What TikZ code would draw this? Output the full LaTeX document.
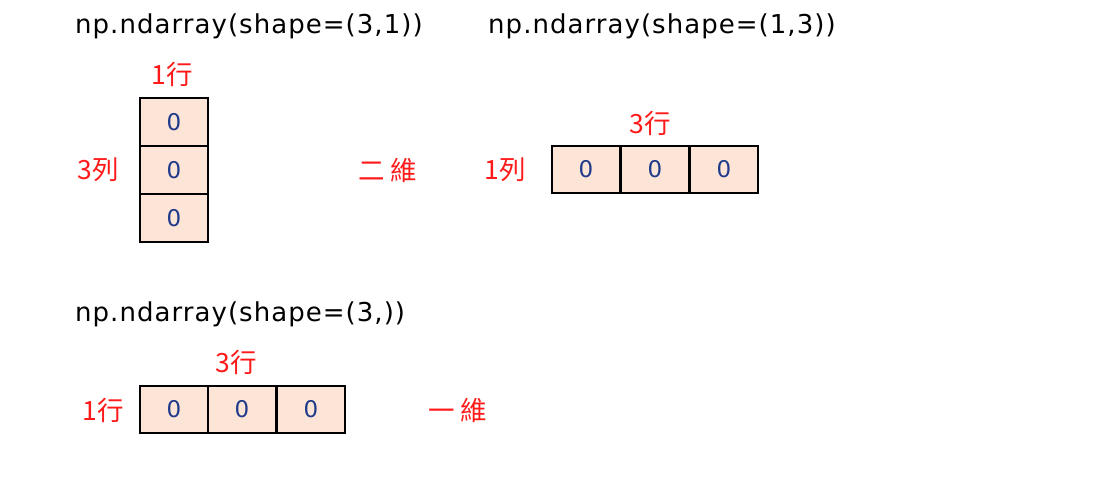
\documentclass[tikz,border=0pt]{standalone}
\usepackage{fontspec}
\setmainfont{DejaVu Sans}
\newfontfamily\titlefont[LetterSpace=4]{DejaVu Sans}
\newfontfamily\cjk{Noto Sans CJK TC}
\definecolor{cellfill}{HTML}{FCE4D6}
\definecolor{zeroblue}{HTML}{1F3A8A}
\definecolor{lblred}{HTML}{FF1A1A}
\begin{document}
\begin{tikzpicture}[x=1pt,y=-1pt,
  cell/.style={draw=black,line width=2pt,fill=cellfill,minimum width=68pt,minimum height=48pt,inner sep=0pt,anchor=north west,font=\fontsize{23}{23}\selectfont\color{zeroblue}},
  title/.style={anchor=west,inner sep=0pt,font=\titlefont\fontsize{26}{26}\selectfont},
  lbl/.style={inner sep=0pt,text=lblred,font=\cjk\fontsize{26.5}{26.5}\selectfont}]
\useasboundingbox (0,0) rectangle (1104,483);
% titles
\node[title] (t1) at (75,26) {np.ndarray(shape=(3,1))};
\node[title] (t2) at (488,26) {np.ndarray(shape=(1,3))};
\node[title] (t3) at (75,314) {np.ndarray(shape=(3,))};
% array (3,1)
\node[cell] (a1) at (139,97) {0};
\node[cell] (a2) at (139,145) {0};
\node[cell] (a3) at (139,193) {0};
\node[lbl] (a1lbl) at (172,74) {1行};
\node[lbl] (a3lbl) at (98,170) {3列};
\node[lbl] (a2d) at (388,170) {二\hspace{6pt}維};
% array (1,3)
\node[cell,minimum height=47pt] (b1) at (551,145) {0};
\node[cell,minimum height=47pt] (b2) at (620,145) {0};
\node[cell,minimum height=47pt] (b3) at (689,145) {0};
\node[lbl] (b3lbl) at (650,123) {3行};
\node[lbl] (b1lbl) at (505,170) {1列};
% array (3,)
\node[cell,minimum height=47pt] (c1) at (139,385) {0};
\node[cell,minimum height=47pt] (c2) at (207,385) {0};
\node[cell,minimum height=47pt] (c3) at (276,385) {0};
\node[lbl] (c3lbl) at (236,362) {3行};
\node[lbl] (c1lbl) at (103,410) {1行};
\node[lbl] (c1d) at (458,410) {一\hspace{6pt}維};
\end{tikzpicture}
\end{document}
